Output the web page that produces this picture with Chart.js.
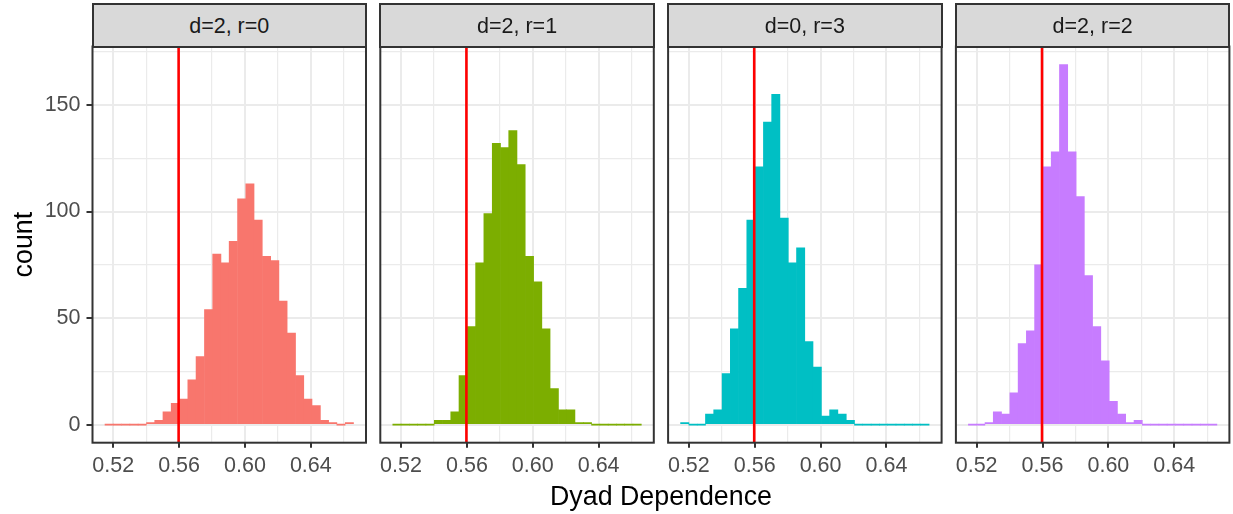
<!DOCTYPE html>
<html>
<head>
<meta charset="utf-8">
<script src="https://cdn.jsdelivr.net/npm/chart.js@4.4.1/dist/chart.umd.min.js"></script>
<style>
  body { margin: 0; background: #fff; width: 1233px; height: 514px; position: relative; overflow: hidden;
         font-family: 'Liberation Sans', Arial, sans-serif; }
  .panel { position: absolute; top: 0; height: 514px; }
  .strip { position: absolute; box-sizing: border-box; top: 3px; height: 44.5px; width: 275.5px;
           background: #D9D9D9; border: 2px solid #333333; color: #1A1A1A; font-size: 21.5px;
           display: flex; align-items: center; justify-content: center; padding-top: 2px; }
  #xtitle { position: absolute; left: 92.5px; width: 1137px; top: 483px; height: 27px; line-height: 27px;
            text-align: center; font-size: 26.8px; color: #000; }
</style>
</head>
<body>
<div class="panel" style="left:0px;width:370px"><canvas id="c0"></canvas></div>
<div class="panel" style="left:370px;width:288px"><canvas id="c1"></canvas></div>
<div class="panel" style="left:658px;width:288px"><canvas id="c2"></canvas></div>
<div class="panel" style="left:946px;width:287px"><canvas id="c3"></canvas></div>
<div id="strips"></div>
<div id="xtitle">Dyad Dependence</div>
<script>
const facetLabels = ['d=2, r=0', 'd=2, r=1', 'd=0, r=3', 'd=2, r=2'];
const facetColors = ['#F8766D', '#7CAE00', '#00BFC4', '#C77CFF'];

// histogram bin centres (30 bins, shared by all facets)
const binCenters = [0.5175, 0.5225, 0.5276, 0.5326, 0.5376, 0.5427, 0.5477, 0.5527, 0.5577, 0.5628,
                    0.5678, 0.5728, 0.5779, 0.5829, 0.5879, 0.5929, 0.5980, 0.6030, 0.6080, 0.6131,
                    0.6181, 0.6231, 0.6282, 0.6332, 0.6382, 0.6433, 0.6483, 0.6533, 0.6583, 0.6634];

const countsD2R0 = [0, 0, 0, 0, 0, 1, 2, 6, 10, 12, 21, 32, 54, 80, 76, 86, 106, 113, 96, 79, 77, 58, 43, 23, 12, 9, 2, 1, 0, 1];
const countsD2R1 = [0, 0, 0, 0, 0, 2, 2, 6, 23, 46, 76, 99, 132, 130, 138, 122, 79, 67, 45, 17, 7, 7, 1, 1, 0, 0, 0, 0, 0, 0];
const countsD0R3 = [1, 0, 0, 5, 7, 24, 45, 64, 96, 121, 142, 155, 97, 76, 83, 39, 27, 4, 7, 5, 2, 0, 0, 0, 0, 0, 0, 0, 0, 0];
const countsD2R2 = [0, 0, 1, 6, 5, 15, 38, 44, 75, 121, 128, 169, 128, 107, 70, 46, 30, 11, 5, 1, 2, 0, 0, 0, 0, 0, 0, 0, 0, 0];
const facetCounts = [countsD2R0, countsD2R1, countsD0R3, countsD2R2];

const observedValue = 0.5597;

const xMajorTicks = [0.52, 0.56, 0.60, 0.64];
const xMinorTicks = [0.54, 0.58, 0.62, 0.66];
const yMajorTicks = [0, 50, 100, 150];
const yMinorTicks = [25, 75, 125, 175];
const xMin = 0.5074, xMax = 0.6735;
const yMin = -8.45, yMax = 177.45;

// layout of the four panels
const panelLeft = [92.5, 380.3, 668.1, 955.9];
const padLeft = [0, 10.3, 10.1, 9.9];
const padRight = [4, 4.2, 4.4, 3.6];

Chart.defaults.font.family = "'Liberation Sans', Arial, sans-serif";

const panelBorder = {
    id: 'panelBorder',
    afterDraw(chart) {
        const { ctx, chartArea: a } = chart;
        ctx.save();
        ctx.strokeStyle = '#333333';
        ctx.lineWidth = 2;
        ctx.strokeRect(a.left, a.top, a.right - a.left, a.bottom - a.top);
        ctx.restore();
    },
};

const allX = xMajorTicks.concat(xMinorTicks).sort((a, b) => a - b);
const allY = yMajorTicks.concat(yMinorTicks).sort((a, b) => a - b);

function makePanel(idx) {
    const isFirst = idx === 0;
    const counts = facetCounts[idx];

    const strip = document.createElement('div');
    strip.className = 'strip';
    strip.style.left = (panelLeft[idx] - 1) + 'px';
    strip.textContent = facetLabels[idx];
    document.getElementById('strips').appendChild(strip);

    new Chart(document.getElementById('c' + idx), {
        type: 'bar',
        data: {
            datasets: [
                {
                    type: 'line',
                    data: [{ x: observedValue, y: yMin }, { x: observedValue, y: yMax }],
                    borderColor: '#FF0000',
                    borderWidth: 2.6,
                    pointRadius: 0,
                    order: 0,
                },
                {
                    type: 'bar',
                    data: binCenters.map((x, i) => ({ x: x, y: counts[i] })),
                    backgroundColor: facetColors[idx],
                    borderWidth: 0,
                    barPercentage: 1,
                    categoryPercentage: 1,
                    minBarLength: 1,
                    order: 1,
                },
            ],
        },
        options: {
            animation: false,
            responsive: true,
            maintainAspectRatio: false,
            layout: { padding: { left: padLeft[idx], right: padRight[idx], top: 46.5, bottom: 31.3 } },
            plugins: { legend: { display: false }, tooltip: { enabled: false } },
            scales: {
                x: {
                    type: 'linear',
                    min: xMin,
                    max: xMax,
                    offset: false,
                    afterBuildTicks: (s) => { s.ticks = allX.map((v) => ({ value: v })); },
                    afterFit: (s) => { s.height = 40; },
                    ticks: {
                        autoSkip: false,
                        maxRotation: 0,
                        minRotation: 0,
                        padding: 5,
                        color: '#4D4D4D',
                        font: { size: 21.5 },
                        callback: (v) => (xMajorTicks.includes(v) ? v.toFixed(2) : ''),
                    },
                    grid: {
                        offset: false,
                        color: '#EBEBEB',
                        lineWidth: (c) => (c.tick && xMajorTicks.includes(c.tick.value) ? 2 : 1.2),
                        tickLength: 5,
                        tickWidth: 2,
                        tickColor: (c) => (c.tick && xMajorTicks.includes(c.tick.value) ? '#333333' : 'rgba(0,0,0,0)'),
                    },
                    border: { display: false },
                },
                y: {
                    type: 'linear',
                    min: yMin,
                    max: yMax,
                    afterBuildTicks: (s) => { s.ticks = allY.map((v) => ({ value: v })); },
                    afterFit: (s) => { s.width = isFirst ? 92.5 : 0; },
                    ticks: {
                        display: isFirst,
                        padding: 6,
                        color: '#4D4D4D',
                        font: { size: 21.5 },
                        callback: (v) => (yMajorTicks.includes(v) ? String(v) : ''),
                    },
                    grid: {
                        color: '#EBEBEB',
                        lineWidth: (c) => (c.tick && yMajorTicks.includes(c.tick.value) ? 2 : 1.2),
                        drawTicks: isFirst,
                        tickLength: 6,
                        tickWidth: 2,
                        tickColor: (c) => (c.tick && yMajorTicks.includes(c.tick.value) ? '#333333' : 'rgba(0,0,0,0)'),
                    },
                    border: { display: false },
                    title: {
                        display: isFirst,
                        text: 'count',
                        color: '#000000',
                        font: { size: 26.8 },
                        padding: { top: 9, bottom: 0 },
                    },
                },
            },
        },
        plugins: [panelBorder],
    });
}

for (let i = 0; i < 4; i++) makePanel(i);
</script>
</body>
</html>
